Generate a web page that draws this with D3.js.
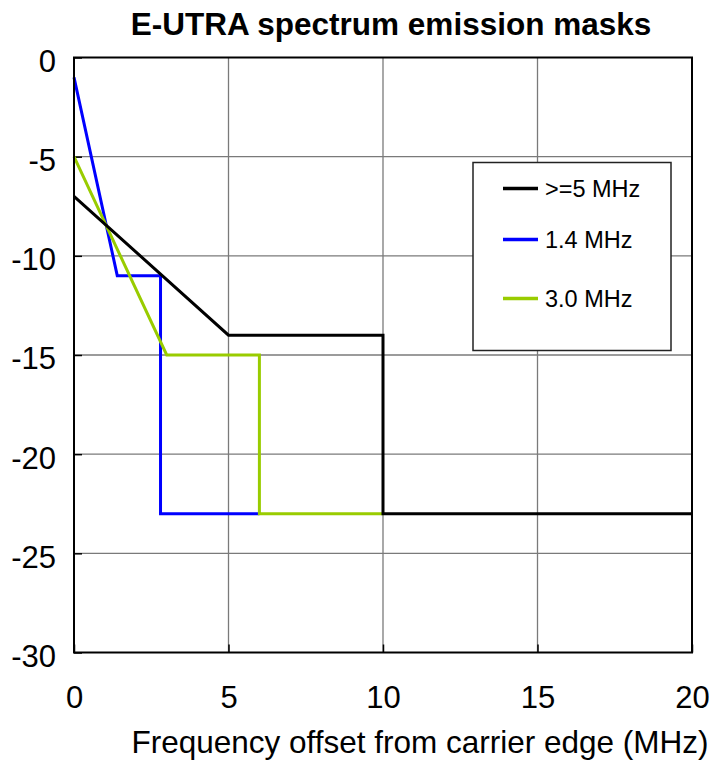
<!DOCTYPE html>
<html>
<head>
<meta charset="utf-8">
<script src="https://cdn.jsdelivr.net/npm/d3@7"></script>
<style>
  body { margin: 0; background: #fff; }
  svg { display: block; font-family: "Liberation Sans", Arial, sans-serif; }
</style>
</head>
<body>
<svg width="717" height="760"></svg>
<script>
// Chart data
const xTicks = [0, 5, 10, 15, 20];
const yTicks = [0, -5, -10, -15, -20, -25, -30];

const seriesNames = [">=5 MHz", "1.4 MHz", "3.0 MHz"];
const seriesColors = ["#000000", "#0000ff", "#99cc00"];

// offset (MHz) / level (dB) pairs for each mask
const maskWideX = [0, 5, 10, 10, 20];
const maskWideY = [-7, -14, -14, -23, -23];
const mask14X = [0, 1.4, 2.8, 2.8, 6];
const mask14Y = [-1, -11, -11, -23, -23];
const mask30X = [0, 3, 6, 6, 10];
const mask30Y = [-5, -15, -15, -23, -23];

const seriesX = [maskWideX, mask14X, mask30X];
const seriesY = [maskWideY, mask14Y, mask30Y];

const svg = d3.select("svg");
const plot = {left: 74, right: 692, top: 57.5, bottom: 652.5};

const x = d3.scaleLinear().domain([0, 20]).range([plot.left, plot.right]);
const y = d3.scaleLinear().domain([-30, 0]).range([plot.bottom, plot.top]);

// grid
const grid = svg.append("g").attr("class", "grid")
    .attr("stroke", "#7a7a7a").attr("stroke-width", 1.3);
grid.selectAll(".vx").data(xTicks.slice(1, -1)).join("line")
    .attr("x1", d => x(d)).attr("x2", d => x(d))
    .attr("y1", plot.top).attr("y2", plot.bottom);
grid.selectAll(".hy").data(yTicks.slice(1, -1)).join("line")
    .attr("x1", plot.left).attr("x2", plot.right)
    .attr("y1", d => y(d)).attr("y2", d => y(d));

// axes (plain hyphen for negatives, like the original)
const plain = d => String(d);
const yAxis = svg.append("g")
    .attr("transform", `translate(${plot.left},0)`)
    .call(d3.axisLeft(y).tickValues(yTicks).tickSize(-8).tickPadding(18).tickFormat(plain));
yAxis.selectAll("text").attr("dy", "0.45em");

const xAxis = svg.append("g")
    .attr("transform", `translate(0,${plot.bottom})`)
    .call(d3.axisBottom(x).tickValues(xTicks).tickSize(-8).tickPadding(33).tickFormat(plain));

[yAxis, xAxis].forEach(a => {
    a.select(".domain").remove();
    a.selectAll("line").attr("stroke", "#000").attr("stroke-width", 1.5);
    a.selectAll("text").attr("font-size", 31).attr("fill", "#000")
        .attr("font-family", "'Liberation Sans', Arial, sans-serif");
});

// mask lines
const line = d3.line().x(d => x(d[0])).y(d => y(d[1]));
seriesNames.forEach((name, i) => {
    const pts = seriesX[i].map((v, j) => [v, seriesY[i][j]]);
    svg.append("path")
        .datum(pts)
        .attr("d", line)
        .attr("fill", "none")
        .attr("stroke", seriesColors[i])
        .attr("stroke-width", 3)
        .attr("stroke-linejoin", "miter");
});
// black mask sits on top of the others
svg.selectAll("path").filter((d, i) => i === 0).raise();

// plot frame
svg.append("rect")
    .attr("x", plot.left).attr("y", plot.top)
    .attr("width", plot.right - plot.left).attr("height", plot.bottom - plot.top)
    .attr("fill", "none").attr("stroke", "#000").attr("stroke-width", 2);

// legend
const legend = svg.append("g").attr("transform", "translate(473,162.5)");
legend.append("rect")
    .attr("width", 198).attr("height", 188)
    .attr("fill", "#fff").attr("stroke", "#222").attr("stroke-width", 1.5);
const legendRowY = [26, 77, 136];
seriesNames.forEach((name, i) => {
    const row = legend.append("g").attr("transform", `translate(0,${legendRowY[i]})`);
    row.append("line")
        .attr("x1", 30).attr("x2", 65)
        .attr("stroke", seriesColors[i]).attr("stroke-width", 3.5);
    row.append("text")
        .attr("x", 72).attr("dy", "0.36em")
        .attr("font-size", 23.5)
        .text(name);
});

// title
svg.append("text")
    .attr("x", 391).attr("y", 35)
    .attr("text-anchor", "middle")
    .attr("font-size", 31.5).attr("font-weight", "bold")
    .text("E-UTRA spectrum emission masks");

// x-axis label
svg.append("text")
    .attr("x", 420).attr("y", 753)
    .attr("text-anchor", "middle")
    .attr("font-size", 31.5)
    .text("Frequency offset from carrier edge (MHz)");
</script>
</body>
</html>
